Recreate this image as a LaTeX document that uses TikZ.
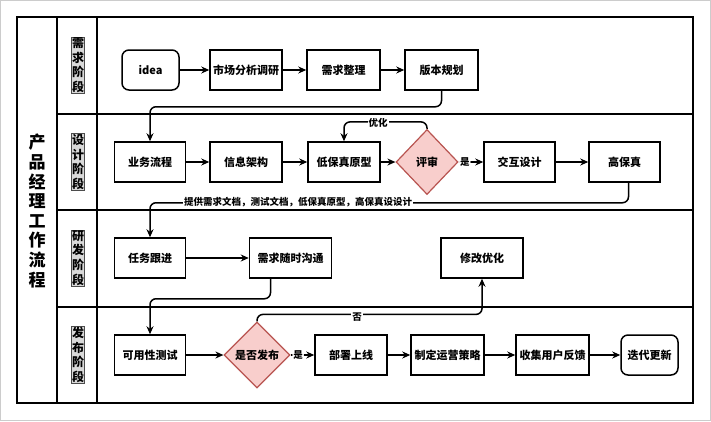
\documentclass[tikz,border=0pt]{standalone}
\usepackage{fontspec}
\setmainfont{Noto Sans CJK SC}
\usetikzlibrary{arrows.meta,shapes.geometric}
\definecolor{decfill}{HTML}{F8CECC}
\definecolor{decline}{HTML}{B85450}
\begin{document}
\begin{tikzpicture}[x=1pt,y=-1pt,line width=1.5pt,font=\bfseries\fontsize{11}{13}\selectfont,
box/.style={draw,minimum height=40pt,inner sep=1pt},
rbox/.style={box,rounded corners=7pt},
dec/.style={diamond,draw=decline,fill=decfill,line width=1.2pt,minimum width=62pt,minimum height=65pt,inner sep=0pt},
lane/.style={draw=black!70,line width=.6pt,fill=black!15,align=center,inner sep=.5pt,font=\bfseries\fontsize{12}{14.7}\selectfont},
lbl/.style={fill=white,inner sep=1pt,font=\bfseries\fontsize{9.5}{11}\selectfont},
arr/.style={-{Stealth[length=8pt,width=7pt]},rounded corners=6pt}]
\newcommand{\Stage}[3]{\node[lane](#1)at(78,#2){#3};}
\useasboundingbox(0,0)rectangle(711,421);
\draw[black!20,line width=1pt](.5,.5)rectangle(710.5,420.5);
\draw(17,17)rectangle(693,403)(57,17)--(57,403)(97,17)--(97,403)
(57,114)--(693,114)(57,210)--(693,210)(57,307)--(693,307);
\node[align=center,font=\bfseries\fontsize{17}{19.6}\selectfont](title)at(37,211){产\\品\\经\\理\\工\\作\\流\\程};
\Stage{s1}{65}{需\\求\\阶\\段}
\Stage{s2}{162}{设\\计\\阶\\段}
\Stage{s3}{258}{研\\发\\阶\\段}
\Stage{s4}{355}{发\\布\\阶\\段}
\node[rbox,minimum width=57pt](idea)at(150.5,70){idea};
\node[box,minimum width=72pt](scdy)at(246,70){市场分析调研};
\node[box,minimum width=73pt](xqzl)at(343.5,70){需求整理};
\node[box,minimum width=73pt](bbgh)at(441.5,70){版本规划};
\node[box,minimum width=71pt](ywlc)at(150,162){业务流程};
\node[box,minimum width=72pt](xxjg)at(246,162){信息架构};
\node[box,minimum width=72pt](dbz)at(344,162){低保真原型};
\node[dec](ps)at(427,162){评审};
\node[box,minimum width=71pt](jhsj)at(519.5,162){交互设计};
\node[box,minimum width=71pt](gbz)at(624.5,162){高保真};
\node[box,minimum width=71pt](rwgj)at(150,258){任务跟进};
\node[box,minimum width=82pt](xqss)at(290.5,258){需求随时沟通};
\node[box,minimum width=82pt](xgyh)at(482,258){修改优化};
\node[box,minimum width=71pt](kyx)at(150,355){可用性测试};
\node[dec,minimum width=66pt,minimum height=66pt](sffb)at(257,355){是否发布};
\node[box,minimum width=72pt](bssx)at(351,355){部署上线};
\node[box,minimum width=73pt](zdyy)at(447.5,355){制定运营策略};
\node[box,minimum width=73pt](sjyh)at(552.5,355){收集用户反馈};
\node[rbox,minimum width=57pt](ddgx)at(649.5,355){迭代更新};
\draw[arr](idea)--(scdy);
\draw[arr](scdy)--(xqzl);
\draw[arr](xqzl)--(bbgh);
\draw[arr](bbgh.south)--++(0,16)-|(ywlc.north);
\draw[arr](ywlc)--(xxjg);
\draw[arr](xxjg)--(dbz);
\draw[arr](dbz)--(ps);
\draw[arr](ps.north)--++(0,-7)-|(dbz.north);
\node[lbl](yh)at(378,123){优化};
\draw[arr](ps)--node[lbl,pos=.25](ps-y){是}(jhsj);
\draw[arr](jhsj)--(gbz);
\draw[arr]([xshift=4pt]gbz.south)--++(0,20)-|(rwgj.north);
\node[lbl](doc)at(298,202){提供需求文档，测试文档，低保真原型，高保真设设计};
\draw[arr](rwgj)--(xqss);
\draw[arr]([xshift=-20pt]xqss.south)--++(0,20)-|(kyx.north);
\draw[arr](kyx)--(sffb);
\draw[arr](sffb)--node[lbl,pos=.32](sf-y){是}(bssx);
\draw[arr](sffb.north)--++(0,-7)-|(xgyh.south);
\node[lbl](no)at(357,317){否};
\draw[arr](bssx)--(zdyy);
\draw[arr](zdyy)--(sjyh);
\draw[arr](sjyh)--(ddgx);
\end{tikzpicture}
\end{document}
